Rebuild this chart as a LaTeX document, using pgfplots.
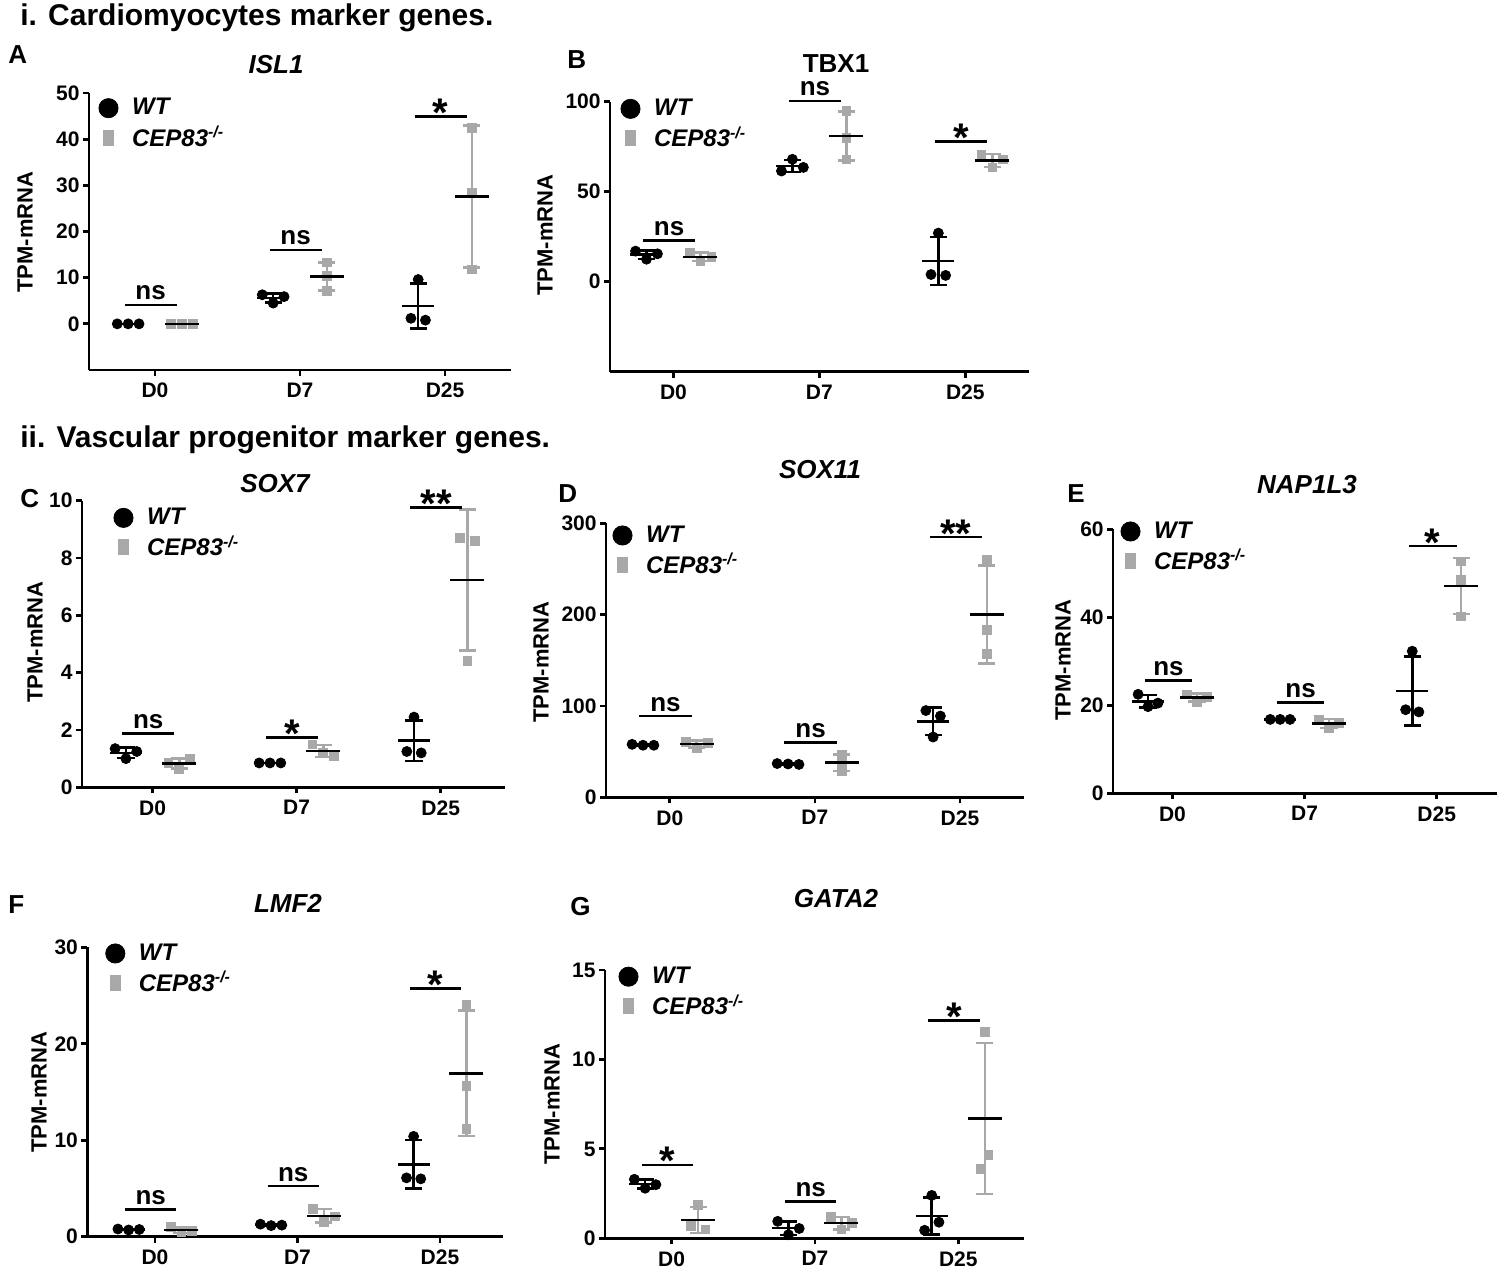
\documentclass[border=0pt]{standalone}
\usepackage{fontspec}
\setmainfont{Liberation Sans}
\usepackage{pgfplots}
\pgfplotsset{compat=1.18}
\definecolor{cepgray}{RGB}{168,168,168}
\newcommand{\fs}[1]{\fontsize{#1}{#1}\selectfont}
\newcommand{\cepl}{CEP83\textsuperscript{-/-}}
\pgfplotsset{
  prism/.style={
    scale only axis, anchor=south west, clip=false,
    axis lines=left, axis line style={-, line width=1.4pt},
    tick align=outside, major tick length=3pt,
    every tick/.style={line width=1.4pt, black},
    xtick={1,2,3}, xticklabels={D0,D7,D25},
    /pgf/number format/assume math mode=true,
    tick label style={font=\fs{10.5}\bfseries},
    yticklabel style={inner xsep=1.5pt},
    legend style={draw=none, fill=none, inner sep=0pt, font=\fs{12}\bfseries\itshape, anchor=north west, row sep=2pt,
      nodes={inner sep=1pt}, /tikz/every odd column/.append style={column sep=6pt}},
    legend cell align=left,
    legend image code/.code={\draw[mark repeat=2,mark phase=2,##1] plot coordinates {(0pt,0pt) (5pt,0pt) (10pt,0pt)};},
  },
  wtpts/.style={only marks, mark=*, mark size=2.5pt, black, forget plot},
  ceppts/.style={only marks, mark=square*, mark size=2.2pt, cepgray, forget plot},
  wtsd/.style={only marks, mark=-, mark size=8pt, black, mark options={line width=1.3pt}, forget plot,
    error bars/.cd, y dir=both, y explicit,
    error bar style={line width=1.3pt, black},
    error mark options={rotate=90, mark size=4.3pt, line width=1.3pt, black}},
  cepsd/.style={only marks, mark=-, mark size=8.5pt, black, mark options={line width=1.3pt}, forget plot,
    error bars/.cd, y dir=both, y explicit,
    error bar style={line width=1.3pt, cepgray},
    error mark options={rotate=90, mark size=4.3pt, line width=1.3pt, cepgray}},
}
\newcommand{\legendpair}{%
  \addlegendimage{only marks, mark=*, mark size=4.8pt, black}
  \addlegendentry{WT}
  \addlegendimage{only marks, mark=square*, mark size=3.7pt, cepgray, mark options={xscale=0.65}}
  \addlegendentry{\cepl}}
\newcommand{\signs}[2]{\draw[line width=1.4pt] (axis cs:{#1-0.21},#2) -- (axis cs:{#1+0.15},#2) node[midway, anchor=base, yshift=2.5pt, font=\fs{13}\bfseries] {ns};}
\newcommand{\sigst}[3]{\draw[line width=1.4pt] (axis cs:{#1-0.21},#2) -- (axis cs:{#1+0.15},#2) node[midway, anchor=base, yshift=-5pt, font=\fs{20}\bfseries] {#3};}
\begin{document}
\begin{tikzpicture}
\path[use as bounding box] (0pt,0pt) rectangle (750pt,-635.5pt);

% ---------------- A: ISL1
\begin{axis}[prism, at={(44.5pt,-185pt)}, width=211pt, height=138.5pt,
  xmin=0.545, xmax=3.455, ymin=-10, ymax=50, ytick={0,10,20,30,40,50},
  legend style={at={([xshift=4.75pt,yshift=-1.5pt]axis description cs:0,1)}}]
\legendpair
\addplot[wtpts] coordinates {(0.74,0) (0.815,0) (0.89,0) (1.74,6.3) (1.815,4.5) (1.89,5.9) (2.815,9.6) (2.765,1.2) (2.865,0.8)};
\addplot[ceppts] coordinates {(1.11,0) (1.185,0) (1.26,0) (2.185,13.3) (2.185,10.4) (2.185,7.2) (3.185,42.5) (3.185,28.4) (3.185,11.8)};
\addplot[wtsd] coordinates {(0.815,0) +- (0,0) (1.815,5.57) +- (0,0.95) (2.815,3.87) +- (0,4.93)};
\addplot[cepsd] coordinates {(1.185,0) +- (0,0) (2.185,10.3) +- (0,3.05) (3.185,27.57) +- (0,15.37)};
\signs{1}{4.1}
\signs{2}{16.0}
\sigst{3}{45.0}{*}
\end{axis}

% ---------------- B: TBX1
\begin{axis}[prism, at={(305pt,-185.85pt)}, width=209.4pt, height=135pt,
  xmin=0.565, xmax=3.435, ymin=-50, ymax=100, ytick={0,50,100},
  legend style={at={([xshift=5.25pt,yshift=2.5pt]axis description cs:0,1)}}]
\legendpair
\addplot[wtpts] coordinates {(0.74,17) (0.815,12.5) (0.89,15.5) (1.74,61.5) (1.815,68) (1.89,63.5) (2.815,27) (2.765,4) (2.865,3.5)};
\addplot[ceppts] coordinates {(1.11,16) (1.185,11.5) (1.26,14) (2.185,95) (2.185,80) (2.185,68) (3.11,70.5) (3.185,63.5) (3.26,68)};
\addplot[wtsd] coordinates {(0.815,15) +- (0,2.29) (1.815,64.33) +- (0,3.33) (2.815,11.5) +- (0,13.43)};
\addplot[cepsd] coordinates {(1.185,13.83) +- (0,2.25) (2.185,81) +- (0,13.53) (3.185,67.33) +- (0,3.55)};
\signs{1}{22.9}
\signs{2}{100.4}
\sigst{3}{77.9}{*}
\end{axis}

% ---------------- C: SOX7
\begin{axis}[prism, at={(41pt,-393.65pt)}, width=211.75pt, height=143.3pt,
  xmin=0.51, xmax=3.45, ymin=0, ymax=10, ytick={0,2,4,6,8,10},
  legend style={at={([xshift=15.75pt,yshift=-2.5pt]axis description cs:0,1)}}]
\legendpair
\addplot[wtpts] coordinates {(0.74,1.35) (0.815,1.0) (0.89,1.25) (1.74,0.85) (1.815,0.85) (1.89,0.85) (2.815,2.45) (2.765,1.25) (2.865,1.2)};
\addplot[ceppts] coordinates {(1.11,0.85) (1.185,0.65) (1.26,1.0) (2.11,1.5) (2.185,1.2) (2.26,1.1) (3.135,8.7) (3.235,8.6) (3.185,4.4)};
\addplot[wtsd] coordinates {(0.815,1.2) +- (0,0.18) (1.815,0.85) +- (0,0) (2.815,1.633) +- (0,0.708)};
\addplot[cepsd] coordinates {(1.185,0.833) +- (0,0.176) (2.185,1.267) +- (0,0.208) (3.185,7.233) +- (0,2.454)};
\signs{1}{1.88}
\sigst{2}{1.73}{*}
\sigst{3}{9.77}{**}
\end{axis}

% ---------------- D: SOX11
\begin{axis}[prism, at={(303pt,-398.65pt)}, width=208.9pt, height=137pt,
  xmin=0.56, xmax=3.44, ymin=0, ymax=300, ytick={0,100,200,300},
  legend style={at={([xshift=3.25pt,yshift=0pt]axis description cs:0,1)}}]
\legendpair
\addplot[wtpts] coordinates {(0.74,58) (0.815,57) (0.89,57) (1.74,37) (1.815,36.5) (1.89,36) (2.765,95) (2.865,89) (2.815,66)};
\addplot[ceppts] coordinates {(1.11,61) (1.185,54) (1.26,60) (2.185,47) (2.185,38) (2.185,29) (3.185,260) (3.185,183) (3.185,157)};
\addplot[wtsd] coordinates {(0.815,57.33) +- (0,0.58) (1.815,36.5) +- (0,0.5) (2.815,83.33) +- (0,15.31)};
\addplot[cepsd] coordinates {(1.185,58.33) +- (0,3.79) (2.185,38) +- (0,9) (3.185,200) +- (0,53.56)};
\signs{1}{89}
\signs{2}{60}
\sigst{3}{285}{**}
\end{axis}

% ---------------- E: NAP1L3
\begin{axis}[prism, at={(556.5pt,-396.65pt)}, width=191.9pt, height=132pt,
  xmin=0.55, xmax=3.455, ymin=0, ymax=60, ytick={0,20,40,60},
  legend style={at={([xshift=3.75pt,yshift=5pt]axis description cs:0,1)}}]
\legendpair
\addplot[wtpts] coordinates {(0.74,22.5) (0.815,19.7) (0.89,20.5) (1.74,16.8) (1.815,16.8) (1.89,16.8) (2.815,32.3) (2.765,19) (2.865,18.5)};
\addplot[ceppts] coordinates {(1.11,22.5) (1.185,20.8) (1.26,22) (2.11,16.8) (2.185,14.8) (2.26,16) (3.185,52.7) (3.185,48.5) (3.185,40.2)};
\addplot[wtsd] coordinates {(0.815,20.9) +- (0,1.44) (1.815,16.8) +- (0,0) (2.815,23.27) +- (0,7.83)};
\addplot[cepsd] coordinates {(1.185,21.77) +- (0,0.87) (2.185,15.87) +- (0,1.01) (3.185,47.13) +- (0,6.36)};
\signs{1}{25.6}
\signs{2}{20.6}
\sigst{3}{56.2}{*}
\end{axis}

% ---------------- F: LMF2
\begin{axis}[prism, at={(43.65pt,-618.35pt)}, width=207.7pt, height=144.7pt,
  xmin=0.525, xmax=3.44, ymin=0, ymax=30, ytick={0,10,20,30},
  legend style={at={([xshift=9pt,yshift=3pt]axis description cs:0,1)}}]
\legendpair
\addplot[wtpts] coordinates {(0.74,0.8) (0.815,0.7) (0.89,0.75) (1.74,1.3) (1.815,1.15) (1.89,1.2) (2.815,10.4) (2.765,6.1) (2.865,6.0)};
\addplot[ceppts] coordinates {(1.11,1.0) (1.185,0.45) (1.26,0.6) (2.11,2.9) (2.185,1.5) (2.26,2.1) (3.185,24) (3.185,15.6) (3.185,11.2)};
\addplot[wtsd] coordinates {(0.815,0.75) +- (0,0.05) (1.815,1.217) +- (0,0.076) (2.815,7.5) +- (0,2.51)};
\addplot[cepsd] coordinates {(1.185,0.683) +- (0,0.284) (2.185,2.167) +- (0,0.702) (3.185,16.93) +- (0,6.5)};
\signs{1}{2.83}
\signs{2}{5.25}
\sigst{3}{25.75}{*}
\end{axis}

% ---------------- G: GATA2
\begin{axis}[prism, at={(302.5pt,-619.15pt)}, width=209.25pt, height=134.15pt,
  xmin=0.535, xmax=3.455, ymin=0, ymax=15, ytick={0,5,10,15},
  legend style={at={([xshift=6.75pt,yshift=2.75pt]axis description cs:0,1)}}]
\legendpair
\addplot[wtpts] coordinates {(0.74,3.3) (0.815,2.8) (0.89,3.0) (1.74,0.95) (1.815,0.2) (1.89,0.55) (2.815,2.4) (2.765,0.45) (2.865,0.9)};
\addplot[ceppts] coordinates {(1.185,1.85) (1.135,0.7) (1.235,0.5) (2.11,1.2) (2.185,0.5) (2.26,0.85) (3.185,11.55) (3.21,4.65) (3.16,3.9)};
\addplot[wtsd] coordinates {(0.815,3.033) +- (0,0.252) (1.815,0.567) +- (0,0.375) (2.815,1.25) +- (0,1.021)};
\addplot[cepsd] coordinates {(1.185,1.017) +- (0,0.729) (2.185,0.85) +- (0,0.35) (3.185,6.7) +- (0,4.22)};
\sigst{1}{4.1}{*}
\signs{2}{2.05}
\sigst{3}{12.17}{*}
\end{axis}

% ---------------- texts
\node[anchor=base west, font=\fs{15}\bfseries, inner sep=0pt] at (10pt,-12.5pt) {i. Cardiomyocytes marker genes.};
\node[anchor=base west, font=\fs{15}\bfseries, inner sep=0pt] at (10pt,-223.5pt) {ii. Vascular progenitor marker genes.};
\foreach \l/\x/\y in {A/4/-31.5, B/283.5/-34, C/10/-253.5, D/279/-251, E/533.5/-251, F/4/-456.5, G/285/-457.5}
  \node[anchor=base west, font=\fs{13}\bfseries, inner sep=0pt] at (\x pt,\y pt) {\l};
\foreach \t/\x/\y in {ISL1/138/-36.5, SOX7/137.5/-246, SOX11/410/-239, NAP1L3/653.5/-246.5, LMF2/144/-456, GATA2/418/-453.5}
  \node[anchor=base, font=\fs{13}\bfseries\itshape, inner sep=0pt] at (\x pt,\y pt) {\t};
\node[anchor=base, font=\fs{13}\bfseries, inner sep=0pt] at (418pt,-36pt) {TBX1};
\foreach \x/\y in {12.5/-116, 272.5/-117.5, 17.5/-321, 270.5/-331, 531.5/-330, 19.5/-546, 276/-552}
  \node[rotate=90, anchor=center, font=\fs{11}\bfseries, inner sep=0pt] at (\x pt,\y pt) {TPM-mRNA};
\end{tikzpicture}
\end{document}
